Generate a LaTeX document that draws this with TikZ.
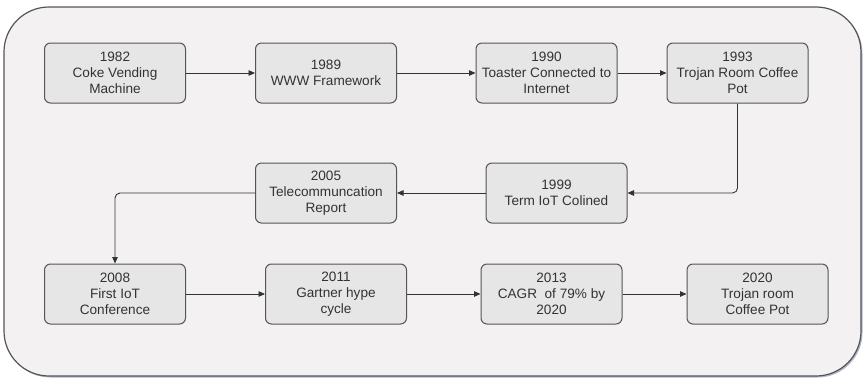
\documentclass[tikz,border=0pt]{standalone}
\usepackage{fontspec}
\setmainfont{Liberation Sans}
\usetikzlibrary{shadows,arrows.meta}
\definecolor{bgfill}{HTML}{F3F1F1}
\definecolor{boxfill}{HTML}{E6E6E6}
\definecolor{boxline}{HTML}{555555}
\definecolor{txt}{HTML}{333333}
\definecolor{shad}{HTML}{7E86A8}
\begin{document}
\begin{tikzpicture}[x=1pt,y=-1pt,
  evbox/.style={draw=boxline, fill=boxfill, line width=1pt, rounded corners=6pt,
    minimum width=141pt, minimum height=60pt, inner sep=1pt, align=center,
    text=txt, font=\fontsize{13.6pt}{16pt}\selectfont},
  conn/.style={draw=black!80, line width=0.9pt, -{Triangle[length=6.5pt,width=5.5pt]}}]
\useasboundingbox (0,0) rectangle (865,380);
\draw[draw=boxline, fill=bgfill, line width=1.2pt, rounded corners=45pt,
  drop shadow={opacity=0.6, shadow xshift=1.5pt, shadow yshift=-1.5pt, fill=shad}]
  (4,7) rectangle (861,376);
\node[evbox] (a) at (115,73) {1982\\Coke Vending\\Machine};
\node[evbox] (b) at (326,73) {1989\\WWW Framework};
\node[evbox] (c) at (546.5,73) {1990\\Toaster Connected to\\Internet};
\node[evbox] (d) at (737.5,73) {1993\\Trojan Room Coffee\\Pot};
\node[evbox] (e) at (556.5,193) {1999\\Term IoT Colined};
\node[evbox] (f) at (326,193) {2005\\Telecommuncation\\Report};
\node[evbox] (g) at (115,294) {2008\\First IoT\\Conference};
\node[evbox] (h) at (336,294) {2011\\Gartner hype\\cycle};
\node[evbox] (i) at (551.5,294) {2013\\CAGR\ \ of 79\% by\\2020};
\node[evbox] (j) at (757.5,294) {2020\\Trojan room\\Coffee Pot};
\draw[conn] (a) -- (b);
\draw[conn] (b) -- (c);
\draw[conn] (c) -- (d);
\draw[conn, rounded corners=5pt] (d.south) |- (e.east);
\draw[conn] (e) -- (f);
\draw[conn, rounded corners=5pt] (f.west) -| (g.north);
\draw[conn] (g) -- (h);
\draw[conn] (h) -- (i);
\draw[conn] (i) -- (j);
\end{tikzpicture}
\end{document}
